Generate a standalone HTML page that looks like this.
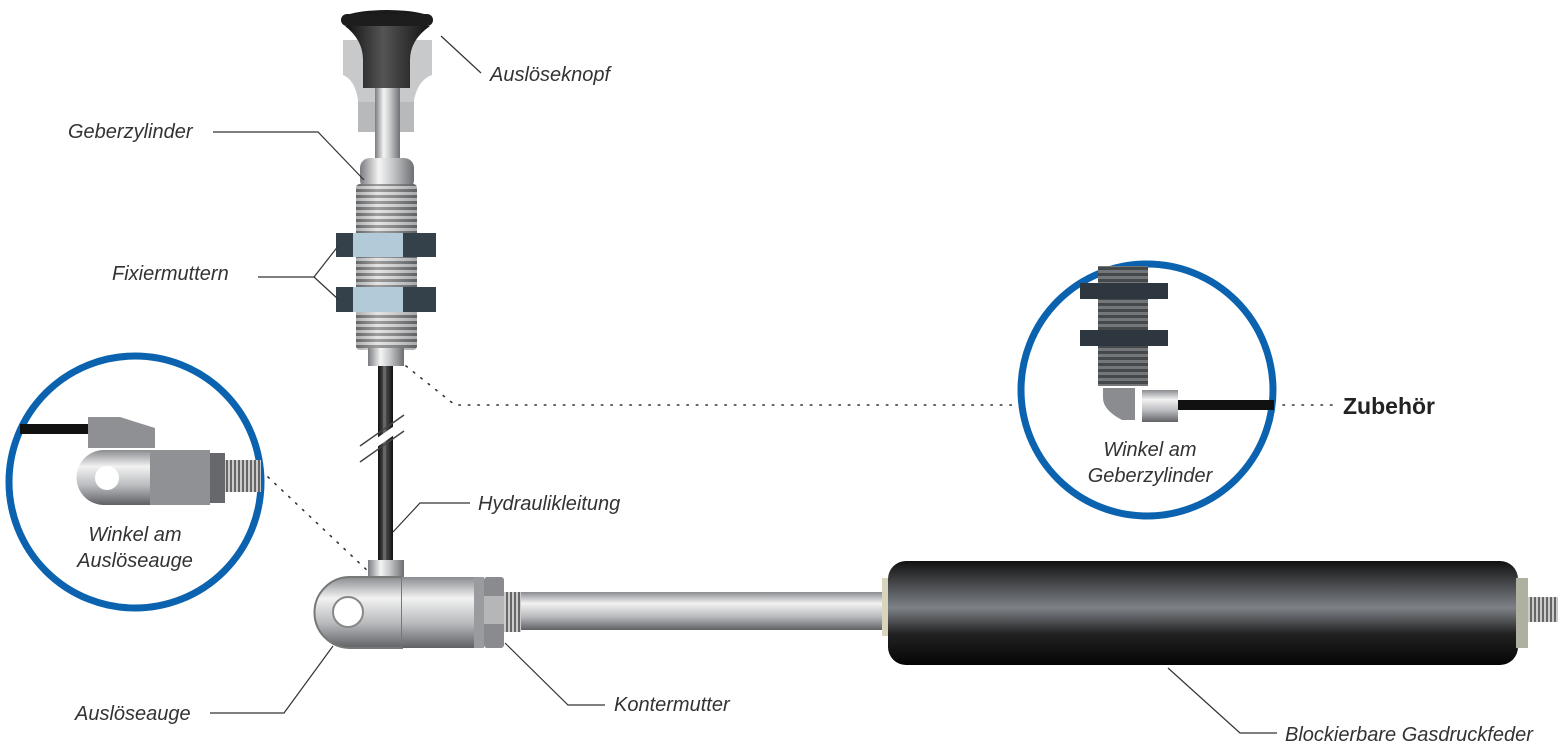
<!DOCTYPE html>
<html><head><meta charset="utf-8"><style>
html,body{margin:0;padding:0;background:#fff;}
svg{display:block}
text{font-family:"Liberation Sans","DejaVu Sans",sans-serif;font-style:italic;fill:#333;font-size:20px;}
</style></head><body>
<svg width="1562" height="752" viewBox="0 0 1562 752" xmlns="http://www.w3.org/2000/svg">
<defs>
<linearGradient id="met" x1="0" y1="0" x2="1" y2="0">
<stop offset="0" stop-color="#7a7c80"/><stop offset="0.35" stop-color="#f4f4f4"/><stop offset="0.6" stop-color="#c8c9cc"/><stop offset="1" stop-color="#6d6f73"/></linearGradient>
<linearGradient id="metv" x1="0" y1="0" x2="0" y2="1">
<stop offset="0" stop-color="#8a8c90"/><stop offset="0.3" stop-color="#f2f2f2"/><stop offset="0.65" stop-color="#b8babd"/><stop offset="1" stop-color="#5f6165"/></linearGradient>
<linearGradient id="blk" x1="0" y1="0" x2="0" y2="1">
<stop offset="0" stop-color="#111"/><stop offset="0.45" stop-color="#7e8288"/><stop offset="0.7" stop-color="#222"/><stop offset="1" stop-color="#050505"/></linearGradient>
<linearGradient id="blkh" x1="0" y1="0" x2="1" y2="0">
<stop offset="0" stop-color="#111"/><stop offset="0.45" stop-color="#555"/><stop offset="1" stop-color="#111"/></linearGradient>
<pattern id="thr" width="8" height="6" patternUnits="userSpaceOnUse"><rect width="8" height="6" fill="#d8d8d8"/><rect y="3" width="8" height="3" fill="#555"/></pattern>
<pattern id="thrh" width="4" height="8" patternUnits="userSpaceOnUse"><rect width="4" height="8" fill="#ccc"/><rect x="2" width="2" height="8" fill="#666"/></pattern>
</defs>

<!-- knob ghost -->
<path d="M343,40 L432,40 L432,75 Q418,80 414,100 L414,102 L358,102 L358,100 Q355,80 343,75Z" fill="#c8c9cb"/>
<rect x="358" y="102" width="56" height="30" fill="#b8b9bb"/>
<!-- knob -->
<ellipse cx="387" cy="20" rx="46" ry="10" fill="#1a1a1a"/>
<rect x="341" y="14" width="92" height="12" rx="6" fill="#1d1d1d"/>
<path d="M345,26 L430,26 Q410,40 410,60 L410,88 L363,88 L363,60 Q363,40 345,26Z" fill="url(#blkh)"/>
<!-- rod -->
<rect x="375" y="88" width="25" height="75" fill="url(#met)"/>
<!-- cylinder head -->
<rect x="360" y="158" width="54" height="32" rx="10" fill="url(#met)"/>
<!-- threads -->
<rect x="356" y="184" width="61" height="166" rx="4" fill="url(#thr)"/>
<rect x="356" y="184" width="61" height="166" rx="4" fill="url(#met)" opacity="0.45"/>
<!-- nuts -->
<rect x="336" y="233" width="100" height="24" fill="#34404a"/>
<rect x="353" y="233" width="50" height="24" fill="#b3cbd8"/>
<rect x="336" y="287" width="100" height="25" fill="#34404a"/>
<rect x="353" y="287" width="50" height="25" fill="#b3cbd8"/>
<!-- bottom nut -->
<rect x="368" y="348" width="36" height="18" fill="url(#met)"/>
<!-- hose -->
<rect x="378" y="366" width="15" height="200" fill="url(#blkh)"/>
<rect x="383" y="366" width="3" height="200" fill="#666"/>
<!-- break -->
<line x1="360" y1="446" x2="404" y2="415" stroke="#444" stroke-width="1.5"/>
<line x1="360" y1="462" x2="404" y2="431" stroke="#444" stroke-width="1.5"/>
<polygon points="360,450 404,419 404,428 360,459" fill="#fff"/>
<!-- fitting -->
<rect x="368" y="560" width="36" height="19" fill="url(#met)"/>
<!-- rod -->
<rect x="500" y="592" width="392" height="38" fill="url(#metv)"/>
<rect x="503" y="592" width="18" height="40" fill="url(#thrh)"/>
<!-- eye -->
<path d="M350,577 L402,577 L402,648 L350,648 A35,35 0 0 1 350,577Z" fill="url(#metv)" stroke="#777" stroke-width="2"/>
<circle cx="348" cy="612" r="15" fill="#fff" stroke="#888" stroke-width="2"/>
<rect x="402" y="577" width="80" height="71" fill="url(#metv)"/>
<rect x="474" y="577" width="10" height="71" fill="#9a9b9e"/>
<rect x="484" y="577" width="20" height="71" rx="3" fill="#8a8b8e"/>
<rect x="484" y="596" width="20" height="28" fill="#b5b6b8"/>
<!-- gas spring -->
<rect x="882" y="578" width="10" height="58" fill="#d8d5bc"/>
<rect x="888" y="561" width="630" height="104" rx="18" fill="url(#blk)"/>
<rect x="1516" y="578" width="12" height="70" fill="#b0b0a0"/>
<rect x="1528" y="597" width="30" height="25" fill="url(#thrh)"/>

<!-- left circle -->
<circle cx="135" cy="482" r="126" fill="#fff" stroke="#0b63b0" stroke-width="7"/>
<rect x="20" y="424" width="70" height="10" fill="#111"/>
<path d="M88,417 L120,417 L155,428 L155,448 L88,448Z" fill="#8e9094"/>
<path d="M104,450 L210,450 L210,505 L104,505 A27,27 0 0 1 104,450Z" fill="url(#metv)"/>
<circle cx="107" cy="478" r="12" fill="#fff"/>
<rect x="150" y="450" width="60" height="55" fill="#8f9195"/>
<rect x="210" y="453" width="15" height="50" fill="#66686c"/>
<rect x="225" y="460" width="36" height="32" fill="url(#thrh)"/>
<text x="135" y="541" text-anchor="middle">Winkel am</text>
<text x="135" y="567" text-anchor="middle">Auslöseauge</text>

<!-- right circle -->
<circle cx="1147" cy="390" r="126" fill="#fff" stroke="#0b63b0" stroke-width="7"/>
<rect x="1098" y="266" width="50" height="120" fill="#3e4247"/>
<rect x="1098" y="266" width="50" height="120" fill="url(#thr)" opacity="0.35"/>
<rect x="1080" y="283" width="88" height="16" fill="#2e3640"/>
<rect x="1080" y="330" width="88" height="16" fill="#2e3640"/>
<path d="M1103,388 L1135,388 L1135,420 L1122,420 Q1103,410 1103,398Z" fill="#8a8c90"/>
<rect x="1142" y="390" width="36" height="32" fill="url(#metv)"/>
<rect x="1178" y="400" width="96" height="10" fill="#111"/>
<text x="1150" y="456" text-anchor="middle">Winkel am</text>
<text x="1150" y="482" text-anchor="middle">Geberzylinder</text>

<!-- leaders -->
<g stroke="#333" stroke-width="1.2" fill="none">
<polyline points="441,36 481,73"/>
<polyline points="213,132 318,132 364,180"/>
<polyline points="258,277 314,277 339,245"/>
<polyline points="314,277 339,300"/>
<polyline points="470,503 420,503 393,532"/>
<polyline points="210,713 284,713 333,646"/>
<polyline points="605,705 568,705 505,643"/>
<polyline points="1277,733 1240,733 1168,668"/>
</g>
<g stroke="#333" stroke-width="1.6" fill="none" stroke-dasharray="1.5 8" stroke-linecap="round">
<polyline points="406,366 455,405 1015,405"/>
<polyline points="1283,405 1335,405"/>
<polyline points="268,477 370,573"/>
</g>

<text x="490" y="81">Auslöseknopf</text>
<text x="68" y="138">Geberzylinder</text>
<text x="112" y="280">Fixiermuttern</text>
<text x="478" y="510">Hydraulikleitung</text>
<text x="75" y="720">Auslöseauge</text>
<text x="614" y="711">Kontermutter</text>
<text x="1285" y="741">Blockierbare Gasdruckfeder</text>
<text x="1343" y="414" style="font-style:normal;font-weight:bold;font-size:23px;fill:#222">Zubehör</text>
</svg>
</body></html>
